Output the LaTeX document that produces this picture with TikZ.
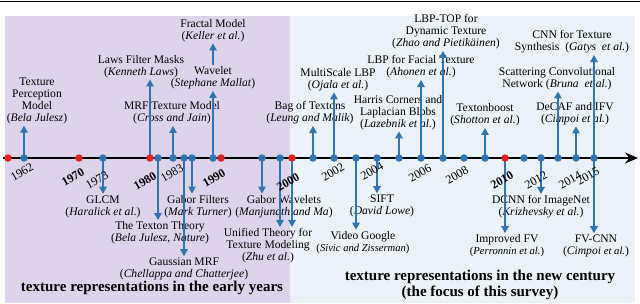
\documentclass[tikz,border=0pt]{standalone}
\usepackage{fontspec}
\setmainfont{Liberation Serif}
\usetikzlibrary{arrows.meta}
\definecolor{bgpurple}{HTML}{DDD4EC}
\definecolor{bgblue}{HTML}{EBF2FA}
\definecolor{dotblue}{HTML}{2E75B6}
\definecolor{dotred}{HTML}{E3231F}
\tikzset{
 txt/.style={align=center, font=\fontsize{11.6}{12}\selectfont, inner sep=1.5pt},
 bdot/.style={circle, fill=dotblue, inner sep=0pt, minimum size=7.5pt},
 rdot/.style={circle, fill=dotred, inner sep=0pt, minimum size=7.5pt},
 arr/.style={draw=dotblue, line width=1.4pt, -{Triangle[length=7pt,width=7.5pt]}},
 yr/.style={font=\fontsize{12}{12}\selectfont, rotate=30, inner sep=0pt},
 yrb/.style={font=\bfseries\fontsize{12}{12}\selectfont, rotate=30, inner sep=0pt},
 ttl/.style={font=\bfseries\fontsize{15}{16}\selectfont, align=center, inner sep=0pt}
}
\newcommand{\smtxt}{\fontsize{10.6}{12}\selectfont}
\begin{document}
\begin{tikzpicture}[x=1pt,y=-1pt]
\useasboundingbox (0,0) rectangle (640,303);
% backgrounds
\fill[bgpurple] (5,16) rectangle (290,303);
\fill[bgblue] (290,16) rectangle (635,303);
\coordinate (tl) at (0,1.5);
\coordinate (tr) at (640,1.5);
\draw[line width=1pt] (tl) -- (tr);
% axis
\coordinate (axs) at (3,158);
\coordinate (axe) at (638,158);
\draw[line width=2pt, -{Stealth[length=13pt,width=11pt]}] (axs) -- (axe);
% dot positions
\foreach \x in {8,24,79,103,150,158,173,184,192,213,221,262,280,292,313,334,356,377,399,421,443,464,485,505,524,541,558,576,594}
  \coordinate (d\x) at (\x,158);
% texts above
\node[txt] (tpm) at (37,101) {Texture\\Perception\\Model\\(\textit{Bela Julesz})};
\node[txt] (laws) at (141,66.5) {Laws Filter Masks\\(\textit{Kenneth Laws})};
\node[txt] (mrf) at (172,113) {MRF Texture Model\\(\textit{Cross and Jain})};
\node[txt] (wavelet) at (213,78) {Wavelet\\(\textit{Stephane Mallat})};
\node[txt] (fractal) at (213,30.5) {Fractal Model\\(\textit{Keller et al.})};
\node[txt] (bag) at (310,113) {Bag of Textons\\(\textit{Leung and Malik})};
\node[txt] (mslbp) at (338,79.5) {MultiScale LBP\\(\textit{Ojala et al.})};
\node[txt] (harris) at (398,112.5) {Harris Corners and\\Laplacian Blobs\\(\textit{Lazebnik et al.})};
\node[txt] (lbpf) at (421,67) {LBP for Facial Texture\\(\textit{Ahonen et al.})};
\node[txt] (lbptop) at (446,32) {LBP-TOP for\\Dynamic Texture\\(\textit{Zhao and Pietikäinen})};
\node[txt] (tboost) at (485,115) {Textonboost\\(\textit{Shotton et al.})};
\node[txt] (scat) at (557,78.5) {Scattering Convolutional\\Network (\textit{Bruna\ \ et al.})};
\node[txt] (decaf) at (575,113.5) {DeCAF and IFV\\(\textit{Cimpoi et al.})};
\node[txt] (cnn) at (572,42) {CNN for Texture\\Synthesis\ \ (\textit{Gatys\ \ et al.})};
% texts below
\node[txt] (glcm) at (103,206.5) {GLCM\\(\textit{Haralick et al.})};
\node[txt] (texton) at (160,233) {The Texton Theory\\(\textit{Bela Julesz, Nature})};
\node[txt] (gmrf) at (184,269) {Gaussian MRF\\(\textit{Chellappa and Chatterjee})};
\node[txt] (gabor) at (198,206.5) {Gabor Filters\\(\textit{Mark Turner})};
\node[txt] (gwav) at (284,206.5) {Gabor Wavelets\\(\textit{Manjunath and Ma})};
\node[txt] (unified) at (268,246) {Unified Theory for\\Texture Modeling\\(\textit{Zhu et al.})};
\node[txt] (vgoogle) at (363,242.5) {Video Google\\{\smtxt(\textit{Sivic and Zisserman})}};
\node[txt] (sift) at (382,206) {SIFT\\(\textit{David Lowe})};
\node[txt] (ifv) at (507,246) {Improved FV\\{\smtxt(\textit{Perronnin et al.})}};
\node[txt] (dcnn) at (541,207) {DCNN for ImageNet\\(\textit{Krizhevsky et al.})};
\node[txt] (fvcnn) at (596,246) {FV-CNN\\(\textit{Cimpoi} {\smtxt\textit{et al.}})};
% arrows up
\draw[arr] (d24) -- (d24 |- tpm.south);
\draw[arr] (d150) -- (d150 |- laws.south);
\draw[arr] (d173) -- (d173 |- mrf.south);
\draw[arr] (d213) -- (d213 |- wavelet.south);
\draw[arr] (wavelet.north) -- (wavelet.north |- fractal.south);
\draw[arr] (d313) -- (d313 |- bag.south);
\draw[arr] (d334) -- (d334 |- mslbp.south);
\draw[arr] (d399) -- (d399 |- harris.south);
\draw[arr] (d421) -- (d421 |- lbpf.south);
\draw[arr] (d443) -- (d443 |- lbptop.south);
\draw[arr] (d485) -- (d485 |- tboost.south);
\draw[arr] (d558) -- (d558 |- scat.south);
\draw[arr] (d576) -- (d576 |- decaf.south);
\draw[arr] (d594) -- (d594 |- cnn.south);
% arrows down
\draw[arr] (d103) -- (d103 |- glcm.north);
\draw[arr] (d158) -- (d158 |- texton.north);
\draw[arr] (d184) -- (d184 |- gmrf.north);
\draw[arr] (d192) -- (d192 |- gabor.north);
\draw[arr] (d262) -- (d262 |- gwav.north);
\draw[arr] (d280) -- (d280 |- unified.north);
\draw[arr] (d292) -- (d292 |- unified.north);
\draw[arr] (d356) -- (d356 |- vgoogle.north);
\draw[arr] (d377) -- (d377 |- sift.north);
\draw[arr] (d505) -- (d505 |- ifv.north);
\draw[arr] (d541) -- (d541 |- dcnn.north);
\draw[arr] (d594) -- (d594 |- fvcnn.north);
% dots
\foreach \x in {24,103,158,173,184,192,213,262,280,313,334,356,377,399,421,443,464,485,524,541,558,576,594}
  \node[bdot] (n\x) at (d\x) {};
\foreach \x in {8,79,150,221,292,505}
  \node[rdot] (n\x) at (d\x) {};
% year labels
\node[yr] (y1962) at (22,172) {1962};
\node[yrb] (y1970) at (73,177) {1970};
\node[yr] (y1973) at (97,180) {1973};
\node[yrb] (y1980) at (145,181) {1980};
\node[yr] (y1983) at (172,173) {1983};
\node[yrb] (y1990) at (214,178) {1990};
\node[yrb] (y2000) at (288,182) {2000};
\node[yr] (y2002) at (333,172) {2002};
\node[yr] (y2004) at (372,171) {2004};
\node[yr] (y2006) at (420,173) {2006};
\node[yr] (y2008) at (457,175) {2008};
\node[yrb] (y2010) at (502,180) {2010};
\node[yr] (y2012) at (536,180) {2012};
\node[yr] (y2014) at (570,180) {2014};
\node[yr] (y2015) at (588,176) {2015};
% titles
\node[ttl] (early) at (152,288) {texture representations in the early years};
\node[ttl] (newc) at (480,285) {texture representations in the new century\\(the focus of this survey)};
\end{tikzpicture}
\end{document}
